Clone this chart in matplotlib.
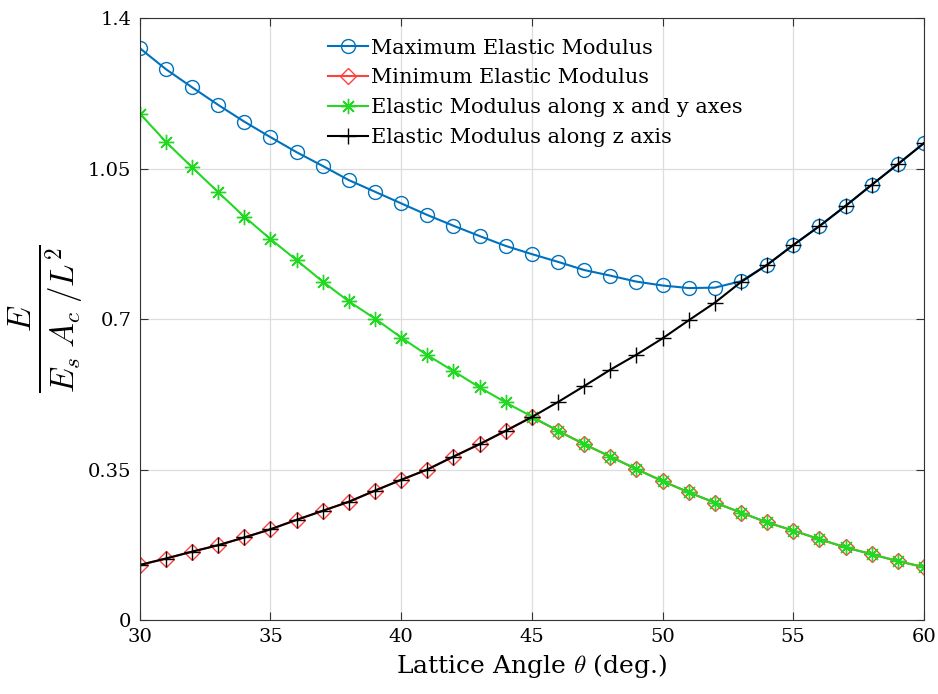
import numpy as np
import matplotlib.pyplot as plt

plt.rcParams['font.family'] = ['DejaVu Serif']
plt.rcParams['mathtext.fontset'] = 'cm'

angle = np.arange(30, 61)

# modulus along z axis
e_z = [0.128, 0.143, 0.159, 0.174, 0.192, 0.211, 0.233, 0.254, 0.275, 0.301,
       0.326, 0.350, 0.380, 0.409, 0.440, 0.472, 0.507, 0.544, 0.582, 0.617,
       0.655, 0.697, 0.738, 0.786, 0.826, 0.872, 0.916, 0.963, 1.012, 1.060,
       1.109]
# modulus along x and y axes
e_xy = [1.178, 1.112, 1.053, 0.995, 0.938, 0.886, 0.837, 0.787, 0.741, 0.701,
        0.657, 0.616, 0.579, 0.541, 0.506, 0.473, 0.440, 0.409, 0.380, 0.351,
        0.323, 0.297, 0.273, 0.250, 0.227, 0.208, 0.188, 0.169, 0.153, 0.137,
        0.123]
e_max = [1.330, 1.281, 1.239, 1.198, 1.159, 1.123, 1.088, 1.056, 1.023, 0.996,
         0.969, 0.942, 0.917, 0.893, 0.870, 0.851, 0.833, 0.814, 0.801, 0.787,
         0.778, 0.772, 0.773, 0.788, 0.826, 0.872, 0.916, 0.963, 1.012, 1.060,
         1.109]
e_min = np.minimum(e_z, e_xy)

fig = plt.figure(figsize=(9.38, 6.94), dpi=100)
ax = fig.add_axes([0.149, 0.1066, 0.836, 0.8674])

asterisk = (8, 2, 0)
ax.plot(angle, e_max, '-o', color='#0072BD', mfc='none', ms=10, mew=1.0, lw=1.5,
        label='Maximum Elastic Modulus')
ax.plot(angle, e_min, '-D', color='#FF4040', mfc='none', ms=8.5, mew=1.0, lw=1.5,
        label='Minimum Elastic Modulus')
ax.plot(angle, e_xy, '-', marker=asterisk, color='#22D822', ms=11, mew=1.0, lw=1.5,
        label='Elastic Modulus along x and y axes')
ax.plot(angle, e_z, '-+', color='black', ms=12, mew=1.0, lw=1.5,
        label='Elastic Modulus along z axis')

ax.set_xlim(30, 60)
ax.set_ylim(0, 1.4)
ax.set_xticks([30, 35, 40, 45, 50, 55, 60])
ax.set_yticks([0, 0.35, 0.7, 1.05, 1.4])
ax.set_yticklabels(['0', '0.35', '0.7', '1.05', '1.4'])
ax.tick_params(direction='in', top=True, right=True, labelsize=14, length=6,
               color='#333333', pad=6)
ax.grid(True, color='#DDDDDD', lw=0.9)
for s in ax.spines.values():
    s.set_color('#333333')

ax.set_xlabel(r'Lattice Angle $\theta$ (deg.)', fontsize=18)
ax.set_ylabel(r'$\frac{E}{E_s\;A_c\;/L^2}$', fontsize=34, labelpad=2)

ax.legend(loc='upper left', bbox_to_anchor=(0.222, 0.99), frameon=False,
          fontsize=15, handlelength=1.9, handletextpad=0.15, labelspacing=0.52,
          borderaxespad=0.3)

fig.savefig('out.png', dpi=100)
